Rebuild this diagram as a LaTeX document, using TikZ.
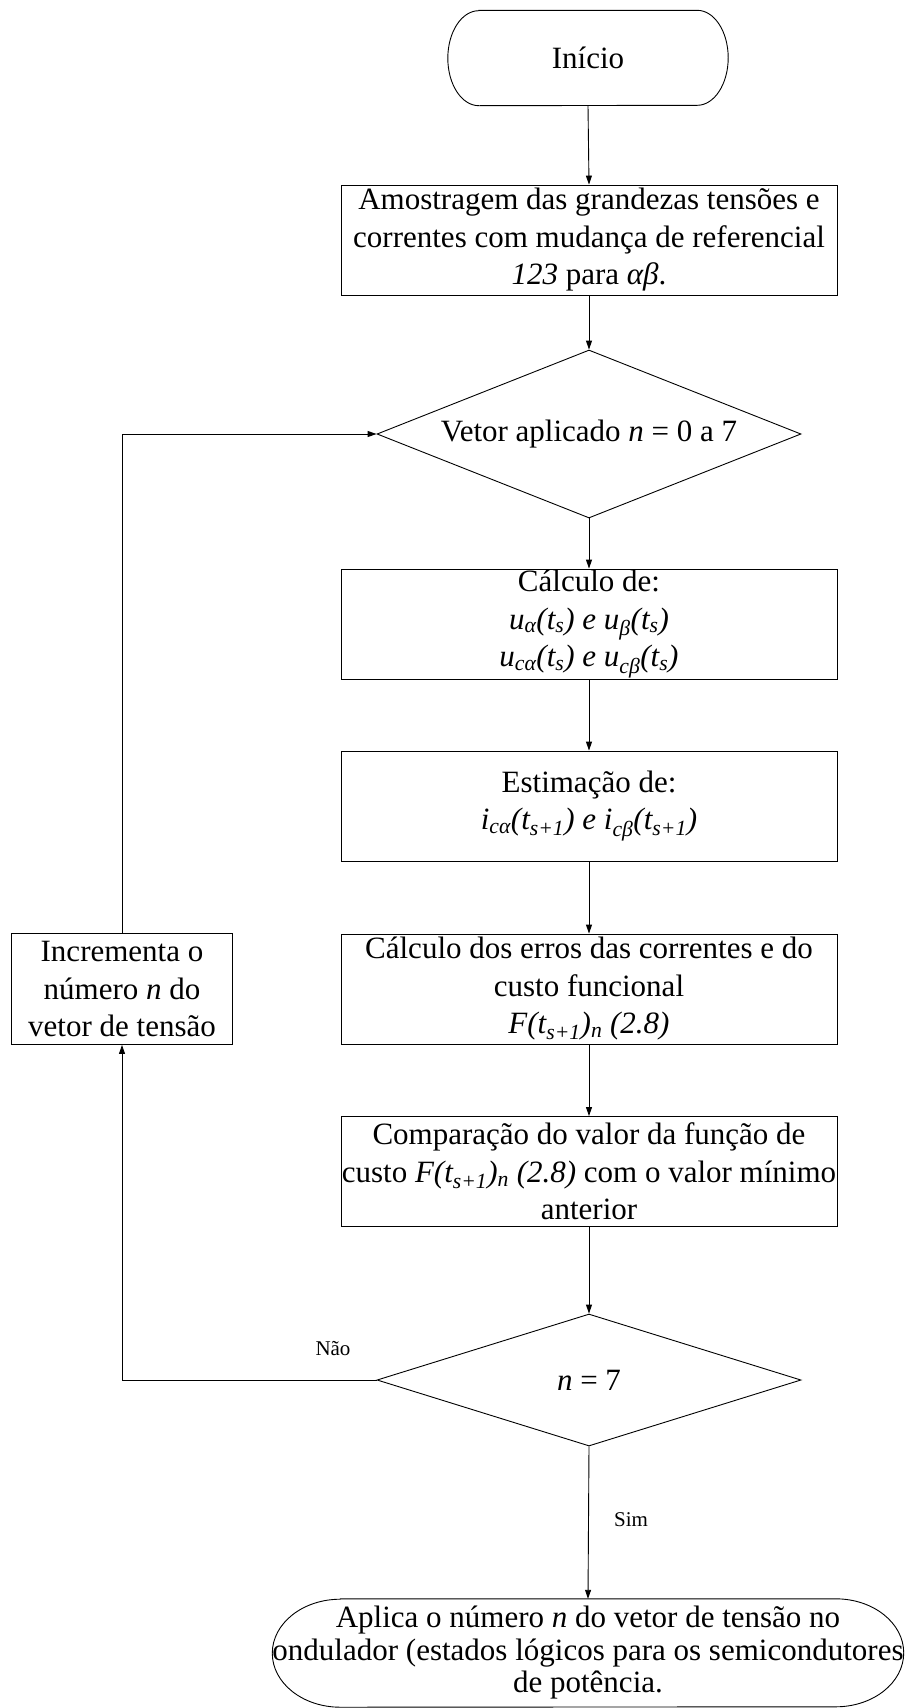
\documentclass[tikz,border=0pt]{standalone}
\usepackage{fontspec}
\setmainfont{Liberation Serif}
\usetikzlibrary{arrows.meta,shapes.geometric}
\newcommand\sbs[1]{\textsubscript{#1}}
\begin{document}
\begin{tikzpicture}[x=1pt,y=-1pt,
  ln/.style={line width=0.9pt},
  box/.style={draw, ln, rectangle, minimum width=496pt, minimum height=110pt, inner sep=0pt, align=center, font=\fontsize{31}{37.5}\selectfont},
  dec/.style={draw, ln, diamond, inner sep=0pt, align=center, font=\fontsize{31}{37.5}\selectfont},
  term/.style={rectangle, inner sep=0pt, align=center},
  arr/.style={ln, -{Triangle[length=9pt,width=6pt]}},
  lbl/.style={font=\fontsize{21}{25}\selectfont, inner sep=0pt}]
\useasboundingbox (0,0) rectangle (905,1708);

% start terminal
\node[term, minimum width=280pt, minimum height=95pt, font=\fontsize{31}{37.5}\selectfont] (ini) at (588,58) {Início};
\draw[ln] ([xshift=31pt]ini.north west) -- ([xshift=-31pt]ini.north east)
  arc[start angle=90,end angle=-90,x radius=31pt,y radius=47.5pt]
  -- ([xshift=31pt]ini.south west)
  arc[start angle=270,end angle=90,x radius=31pt,y radius=47.5pt] -- cycle;

\node[box] (b1) at (589,240) {Amostragem das grandezas tensões e\\correntes com mudança de referencial\\\textit{123} para \textit{αβ}.};

\node[dec, aspect=2.52, minimum width=424pt, minimum height=168pt] (d1) at (589,434) {Vetor aplicado \textit{n} = 0 a 7};

\node[box] (b2) at (589,624) {Cálculo de:\\\textit{u\sbs{α}(t\sbs{s}) e u\sbs{β}(t\sbs{s})}\\\textit{u\sbs{cα}(t\sbs{s}) e u\sbs{cβ}(t\sbs{s})}};

\node[box] (b3) at (589,806) {Estimação de:\\\textit{i\sbs{cα}(t\sbs{s+1}) e i\sbs{cβ}(t\sbs{s+1})}};

\node[box] (b4) at (589,989) {Cálculo dos erros das correntes e do\\custo funcional\\\textit{F(t\sbs{s+1})\sbs{n} (2.8)}};

\node[box] (b5) at (589,1171.5) {Comparação do valor da função de\\custo \textit{F(t\sbs{s+1})\sbs{n} (2.8)} com o valor mínimo\\anterior};

\node[dec, aspect=3.2, minimum width=424pt, minimum height=132pt] (d2) at (589,1380) {\textit{n} = 7};

\node[box, minimum width=221pt, minimum height=111pt] (inc) at (122,989) {Incrementa o\\número \textit{n} do\\vetor de tensão};

% end terminal
\node[term, minimum width=630pt, minimum height=108pt, font=\fontsize{31}{32.5}\selectfont] (fim) at (588,1653) {Aplica o número \textit{n} do vetor de tensão no\\ondulador (estados lógicos para os semicondutores\\de potência.};
\draw[ln] ([xshift=68pt]fim.north west) -- ([xshift=-68pt]fim.north east)
  arc[start angle=90,end angle=-90,x radius=68pt,y radius=54pt]
  -- ([xshift=68pt]fim.south west)
  arc[start angle=270,end angle=90,x radius=68pt,y radius=54pt] -- cycle;

% connectors
\draw[arr] (ini.south) -- (b1.north);
\draw[arr] (b1.south) -- (d1.north);
\draw[arr] (d1.south) -- (b2.north);
\draw[arr] (b2.south) -- (b3.north);
\draw[arr] (b3.south) -- (b4.north);
\draw[arr] (b4.south) -- (b5.north);
\draw[arr] (b5.south) -- (d2.north);
\draw[arr] (d2.south) -- (fim.north);
\draw[arr] (d2.west) -| (inc.south);
\draw[arr] (inc.north) |- (d1.west);

% labels
\node[lbl] (nao) at (333,1349) {Não};
\node[lbl] (sim) at (631,1520) {Sim};
\end{tikzpicture}
\end{document}
